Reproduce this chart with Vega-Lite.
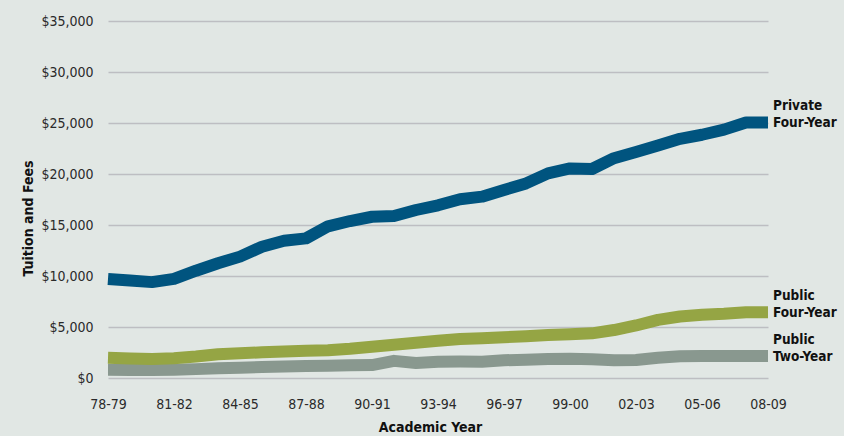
{
  "$schema": "https://vega.github.io/schema/vega-lite/v6.json",
  "width": 660,
  "height": 357,
  "autosize": {"type": "none"},
  "padding": {"left": 108, "top": 21, "right": 76, "bottom": 58},
  "background": "#e1e7e4",
  "config": {
    "view": {"stroke": null},
    "font": "DejaVu Sans Condensed, Liberation Sans, sans-serif",
    "axis": {"labelFont": "DejaVu Sans Condensed, Liberation Sans, sans-serif", "titleFont": "DejaVu Sans Condensed, Liberation Sans, sans-serif"}
  },
  "data": {
    "values": [
      {"year": "78-79", "Private Four-Year": 9700, "Public Four-Year": 1990, "Public Two-Year": 800},
      {"year": "79-80", "Private Four-Year": 9550, "Public Four-Year": 1920, "Public Two-Year": 790},
      {"year": "80-81", "Private Four-Year": 9400, "Public Four-Year": 1860, "Public Two-Year": 785},
      {"year": "81-82", "Private Four-Year": 9720, "Public Four-Year": 1930, "Public Two-Year": 800},
      {"year": "82-83", "Private Four-Year": 10520, "Public Four-Year": 2100, "Public Two-Year": 870},
      {"year": "83-84", "Private Four-Year": 11250, "Public Four-Year": 2320, "Public Two-Year": 950},
      {"year": "84-85", "Private Four-Year": 11900, "Public Four-Year": 2420, "Public Two-Year": 1010},
      {"year": "85-86", "Private Four-Year": 12870, "Public Four-Year": 2520, "Public Two-Year": 1080},
      {"year": "86-87", "Private Four-Year": 13460, "Public Four-Year": 2600, "Public Two-Year": 1120},
      {"year": "87-88", "Private Four-Year": 13690, "Public Four-Year": 2680, "Public Two-Year": 1180},
      {"year": "88-89", "Private Four-Year": 14870, "Public Four-Year": 2720, "Public Two-Year": 1210},
      {"year": "89-90", "Private Four-Year": 15390, "Public Four-Year": 2870, "Public Two-Year": 1240},
      {"year": "90-91", "Private Four-Year": 15810, "Public Four-Year": 3070, "Public Two-Year": 1270},
      {"year": "91-92", "Private Four-Year": 15880, "Public Four-Year": 3260, "Public Two-Year": 1680},
      {"year": "92-93", "Private Four-Year": 16470, "Public Four-Year": 3460, "Public Two-Year": 1480},
      {"year": "93-94", "Private Four-Year": 16930, "Public Four-Year": 3650, "Public Two-Year": 1600},
      {"year": "94-95", "Private Four-Year": 17520, "Public Four-Year": 3820, "Public Two-Year": 1620},
      {"year": "95-96", "Private Four-Year": 17780, "Public Four-Year": 3900, "Public Two-Year": 1600},
      {"year": "96-97", "Private Four-Year": 18430, "Public Four-Year": 3990, "Public Two-Year": 1740},
      {"year": "97-98", "Private Four-Year": 19080, "Public Four-Year": 4100, "Public Two-Year": 1800},
      {"year": "98-99", "Private Four-Year": 20060, "Public Four-Year": 4210, "Public Two-Year": 1860},
      {"year": "99-00", "Private Four-Year": 20550, "Public Four-Year": 4280, "Public Two-Year": 1880},
      {"year": "00-01", "Private Four-Year": 20490, "Public Four-Year": 4380, "Public Two-Year": 1830},
      {"year": "01-02", "Private Four-Year": 21550, "Public Four-Year": 4700, "Public Two-Year": 1730},
      {"year": "02-03", "Private Four-Year": 22150, "Public Four-Year": 5150, "Public Two-Year": 1760},
      {"year": "03-04", "Private Four-Year": 22800, "Public Four-Year": 5700, "Public Two-Year": 1990},
      {"year": "04-05", "Private Four-Year": 23450, "Public Four-Year": 6030, "Public Two-Year": 2140},
      {"year": "05-06", "Private Four-Year": 23850, "Public Four-Year": 6200, "Public Two-Year": 2160},
      {"year": "06-07", "Private Four-Year": 24350, "Public Four-Year": 6300, "Public Two-Year": 2160},
      {"year": "07-08", "Private Four-Year": 25050, "Public Four-Year": 6450, "Public Two-Year": 2150},
      {"year": "08-09", "Private Four-Year": 25050, "Public Four-Year": 6450, "Public Two-Year": 2150}
    ]
  },
  "transform": [
    {"fold": ["Public Two-Year", "Public Four-Year", "Private Four-Year"], "as": ["series", "value"]}
  ],
  "encoding": {
    "x": {
      "field": "year",
      "type": "ordinal",
      "sort": null,
      "scale": {"type": "point", "padding": 0},
      "axis": {
        "title": "Academic Year",
        "titleX": 322,
        "values": ["78-79", "81-82", "84-85", "87-88", "90-91", "93-94", "96-97", "99-00", "02-03", "05-06", "08-09"],
        "labelAngle": 0,
        "labelFontSize": 14,
        "labelColor": "#2a2a2a",
        "labelPadding": 19,
        "titleFontSize": 14,
        "titleFontWeight": "bold",
        "titleColor": "#111111",
        "titlePadding": 9,
        "domain": false,
        "ticks": false,
        "grid": false
      }
    },
    "y": {
      "field": "value",
      "type": "quantitative",
      "scale": {"domain": [0, 35000]},
      "axis": {
        "title": "Tuition and Fees",
        "titleY": 197,
        "values": [0, 5000, 10000, 15000, 20000, 25000, 30000, 35000],
        "format": "$,.0f",
        "labelFontSize": 14,
        "labelColor": "#2a2a2a",
        "labelPadding": 15,
        "titleFontSize": 14,
        "titleFontWeight": "bold",
        "titleColor": "#111111",
        "titlePadding": 5,
        "domain": false,
        "ticks": false,
        "grid": true,
        "gridColor": "#bdbec2",
        "gridWidth": 1.5
      }
    },
    "color": {
      "field": "series",
      "type": "nominal",
      "scale": {
        "domain": ["Private Four-Year", "Public Four-Year", "Public Two-Year"],
        "range": ["#00547f", "#95a544", "#89988f"]
      },
      "legend": null
    }
  },
  "layer": [
    {
      "mark": {"type": "line", "strokeWidth": 12, "strokeJoin": "round", "strokeCap": "butt"}
    },
    {
      "transform": [{"filter": "datum.year == '08-09'"}],
      "mark": {
        "type": "text",
        "align": "left",
        "baseline": "middle",
        "dx": 5,
        "dy": -16,
        "lineBreak": " ",
        "lineHeight": 17,
        "fontSize": 13.5,
        "fontWeight": "bold",
        "color": "#111111"
      },
      "encoding": {
        "text": {"field": "series"},
        "color": {"value": "#111111"}
      }
    }
  ]
}
